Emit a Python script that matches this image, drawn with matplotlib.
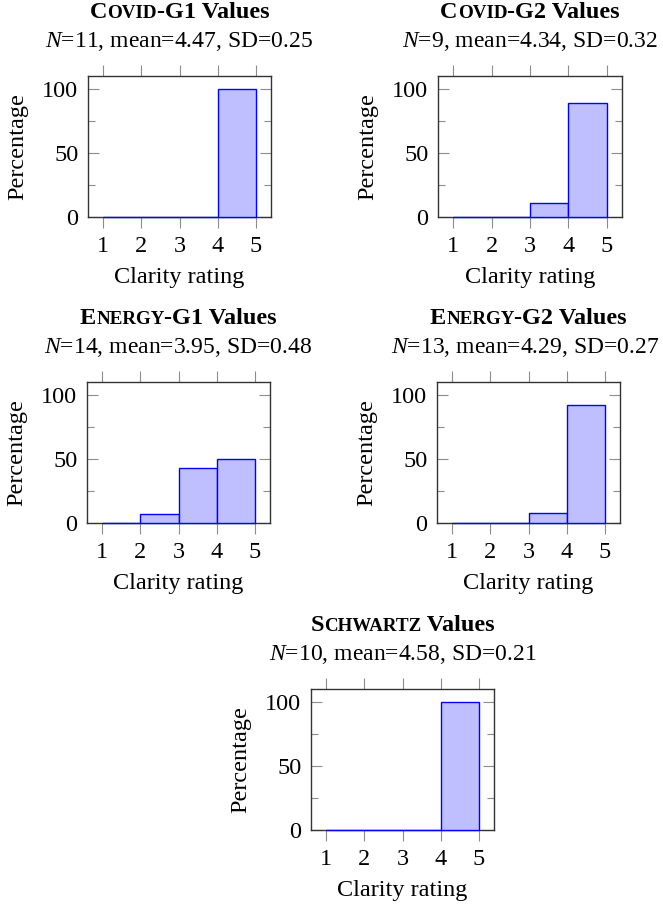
import matplotlib
matplotlib.use("Agg")
import matplotlib.pyplot as plt
from matplotlib.ticker import FixedLocator

plt.rcParams['font.family'] = ['Liberation Serif', 'DejaVu Serif']
plt.rcParams['mathtext.fontset'] = 'custom'
plt.rcParams['mathtext.rm'] = 'Liberation Serif'
plt.rcParams['mathtext.it'] = 'Liberation Serif:italic'
plt.rcParams['mathtext.bf'] = 'Liberation Serif:bold'

# ---------------- data ----------------
bin_left = [1, 2, 3, 4]          # rating intervals [1,2), [2,3), [3,4), [4,5]
xtick_vals = [1, 2, 3, 4, 5]
covid_g1 = [0, 0, 0, 100]
covid_g2 = [0, 0, 11.1, 88.9]
energy_g1 = [0, 7.1, 42.9, 50.0]
energy_g2 = [0, 0, 7.7, 92.3]
schwartz = [0, 0, 0, 100]

title_caps = [("C", "OVID", "-G1 Values"),
              ("C", "OVID", "-G2 Values"),
              ("E", "NERGY", "-G1 Values"),
              ("E", "NERGY", "-G2 Values"),
              ("S", "CHWARTZ", " Values")]
stats = ["$N$=11, mean=4.47, SD=0.25",
         "$N$=9, mean=4.34, SD=0.32",
         "$N$=14, mean=3.95, SD=0.48",
         "$N$=13, mean=4.29, SD=0.27",
         "$N$=10, mean=4.58, SD=0.21"]
series = [covid_g1, covid_g2, energy_g1, energy_g2, schwartz]

# ---------------- layout (pixels) ----------------
W, H = 663, 906
boxes = [(88, 76, 183, 141), (438, 76, 184, 141),
         (87, 382, 183, 141), (437, 382, 183, 141),
         (311, 689, 183, 141)]
sub_shift = [0, 0, 0, -3, 0]

FS = 17.5
FS_SUB = 17
fig = plt.figure(figsize=(W / 100, H / 100), dpi=100)
renderer = fig.canvas.get_renderer()

fill_c = '#bfbfff'
edge_c = '#0000ff'
tick_c = '#8c8c8c'
spine_c = '#333333'

def fx(px):
    return px / W

def fy(py):
    return 1 - py / H

for i, (vals, (l, t, w, h)) in enumerate(zip(series, boxes)):
    ax = fig.add_axes([fx(l), fy(t + h), w / W, h / H])
    ax.bar(bin_left, vals, width=1, align='edge', facecolor=fill_c,
           edgecolor=edge_c, linewidth=1.0, zorder=3, clip_on=False)
    ax.set_xlim(0.6, 5.4)
    ax.set_ylim(0, 110)
    ax.set_xticks(xtick_vals)
    ax.set_xticklabels([str(v) for v in xtick_vals], fontsize=FS)
    ax.set_yticks([0, 50, 100])
    ax.set_yticklabels(['0', '50', '100'], fontsize=FS)
    ax.yaxis.set_minor_locator(FixedLocator([25, 75]))
    ax.tick_params(axis='x', which='major', direction='out', length=8, width=0.8,
                   color=tick_c, top=True, bottom=True, pad=6)
    ax.tick_params(axis='y', which='major', direction='in', length=8, width=0.8,
                   color=tick_c, left=True, right=True, pad=7)
    ax.tick_params(axis='y', which='minor', direction='in', length=5, width=0.8,
                   color=tick_c, left=True, right=True)
    for s in ax.spines.values():
        s.set_color(spine_c)
        s.set_linewidth(1.0)
    ax.set_xlabel("Clarity rating", fontsize=FS, va='baseline')
    ax.xaxis.set_label_coords(0.5, -66 / h)
    ax.set_ylabel("Percentage", fontsize=FS, va='center')
    ax.yaxis.set_label_coords(-70 / w, 0.5)

    xc = l + w / 2
    # subtitle
    fig.text(fx(xc + sub_shift[i]), fy(t - 29), stats[i], fontsize=FS_SUB,
             ha='center', va='baseline')
    # small-caps bold title
    big, small, rest = title_caps[i]
    parts = [(big, FS * 1.0), (small, FS * 0.78), (rest, FS * 1.0)]
    txts = [fig.text(0, fy(t - 58), s, fontsize=sz, fontweight='bold',
                     ha='left', va='baseline') for s, sz in parts]
    widths = [tx.get_window_extent(renderer).width for tx in txts]
    gaps = [0.0, 0.0, 0.0]
    total = sum(widths) + sum(gaps[:-1])
    x0 = xc - total / 2
    for tx, wd, g in zip(txts, widths, gaps):
        tx.set_x(fx(x0))
        x0 += wd + g

fig.savefig("out.png", dpi=100)
